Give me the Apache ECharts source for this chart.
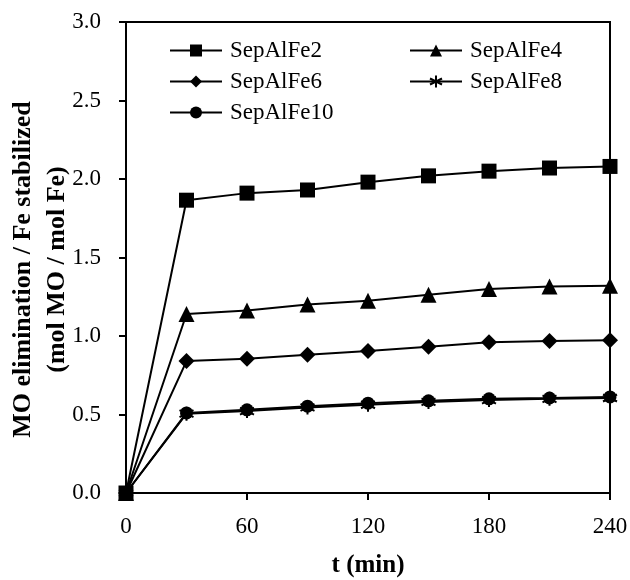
<!DOCTYPE html>
<html>
<head>
<meta charset="utf-8">
<script src="https://cdn.jsdelivr.net/npm/echarts@6/dist/echarts.min.js"></script>
<style>
  html, body { margin: 0; padding: 0; background: #fff; }
  #chart { width: 630px; height: 580px; }
</style>
</head>
<body>
<div id="chart"></div>
<script>
// Sampling times (min)
const times = [0, 30, 60, 90, 120, 150, 180, 210, 240];
const xTicks = [0, 60, 120, 180, 240];
const yTicks = [0.0, 0.5, 1.0, 1.5, 2.0, 2.5, 3.0];

// MO eliminated per mol of stabilized Fe
const sepAlFe2  = [0, 1.865, 1.91, 1.93, 1.98, 2.02, 2.05, 2.07, 2.08];
const sepAlFe4  = [0, 1.14, 1.163, 1.20, 1.225, 1.262, 1.30, 1.315, 1.32];
const sepAlFe6  = [0, 0.84, 0.855, 0.88, 0.905, 0.932, 0.96, 0.968, 0.973];
const sepAlFe8  = [0, 0.505, 0.522, 0.545, 0.562, 0.58, 0.592, 0.60, 0.605];
const sepAlFe10 = [0, 0.51, 0.53, 0.553, 0.572, 0.587, 0.60, 0.605, 0.612];

const seriesNames = ['SepAlFe2', 'SepAlFe4', 'SepAlFe6', 'SepAlFe8', 'SepAlFe10'];

const FONT = '"Liberation Serif", "Times New Roman", serif';
const asterisk = 'path://M0,-10 L0,10 M-8.66,-5 L8.66,5 M-8.66,5 L8.66,-5';

function pairs(vals) {
  return times.map((t, i) => [t, vals[i]]);
}

function makeSeries(name, vals, symbol, size, z, extra) {
  return Object.assign({
    name: name,
    type: 'line',
    data: pairs(vals),
    symbol: symbol,
    symbolSize: size,
    clip: false,
    z: z,
    lineStyle: { color: '#000', width: 2 },
    itemStyle: { color: '#000', borderColor: '#000', borderWidth: 0 },
    emphasis: { disabled: true },
    animation: false
  }, extra || {});
}

const chart = echarts.init(document.getElementById('chart'), null, { renderer: 'canvas' });

const legendText = { fontFamily: FONT, fontSize: 23, color: '#000', padding: [0, 0, 0, 3] };

chart.setOption({
  backgroundColor: '#fff',
  animation: false,
  grid: {
    left: 126, right: 20, top: 22, bottom: 87,
    outerBoundsMode: 'none', containLabel: false,
    show: true, borderColor: '#000', borderWidth: 2, backgroundColor: 'transparent'
  },
  legend: [
    {
      data: ['SepAlFe2', 'SepAlFe6', 'SepAlFe10'],
      orient: 'vertical', left: 164, top: 34,
      itemWidth: 52, itemHeight: 15, itemGap: 8,
      textStyle: legendText, selectedMode: false
    },
    {
      data: ['SepAlFe4', 'SepAlFe8'],
      orient: 'vertical', left: 404, top: 34,
      itemWidth: 52, itemHeight: 15, itemGap: 8,
      textStyle: legendText, selectedMode: false
    }
  ],
  xAxis: {
    type: 'value', min: xTicks[0], max: xTicks[xTicks.length - 1], interval: 60,
    name: 't (min)', nameLocation: 'middle', nameGap: 60, nameMoveOverlap: false,
    nameTextStyle: { fontFamily: FONT, fontSize: 25, fontWeight: 'bold', color: '#000' },
    axisLine: { show: true, lineStyle: { color: '#000', width: 2 } },
    axisTick: { show: true, inside: false, length: 7, lineStyle: { color: '#000', width: 2 } },
    axisLabel: { fontFamily: FONT, fontSize: 23, color: '#000', margin: 22 },
    splitLine: { show: false }
  },
  yAxis: {
    type: 'value', min: yTicks[0], max: yTicks[yTicks.length - 1], interval: 0.5,
    name: 'MO elimination / Fe stabilized\n(mol MO / mol Fe)',
    nameLocation: 'middle', nameGap: 52, nameRotate: 90, nameMoveOverlap: false,
    nameTextStyle: { fontFamily: FONT, fontSize: 26, fontWeight: 'bold', color: '#000', lineHeight: 34, align: 'center', padding: [0, 24, 0, 0] },
    axisLine: { show: true, lineStyle: { color: '#000', width: 2 } },
    axisTick: { show: true, inside: false, length: 7, lineStyle: { color: '#000', width: 2 } },
    axisLabel: {
      fontFamily: FONT, fontSize: 23, color: '#000', margin: 25,
      formatter: v => v.toFixed(1)
    },
    splitLine: { show: false }
  },
  series: [
    makeSeries(seriesNames[0], sepAlFe2, 'rect', 15, 10),
    makeSeries(seriesNames[1], sepAlFe4, 'triangle', 16, 9),
    makeSeries(seriesNames[2], sepAlFe6, 'diamond', 16, 8),
    makeSeries(seriesNames[3], sepAlFe8, asterisk, 14, 6, {
      itemStyle: { color: '#000', borderColor: '#000', borderWidth: 2 }
    }),
    makeSeries(seriesNames[4], sepAlFe10, 'circle', 13, 7)
  ]
});
</script>
</body>
</html>
